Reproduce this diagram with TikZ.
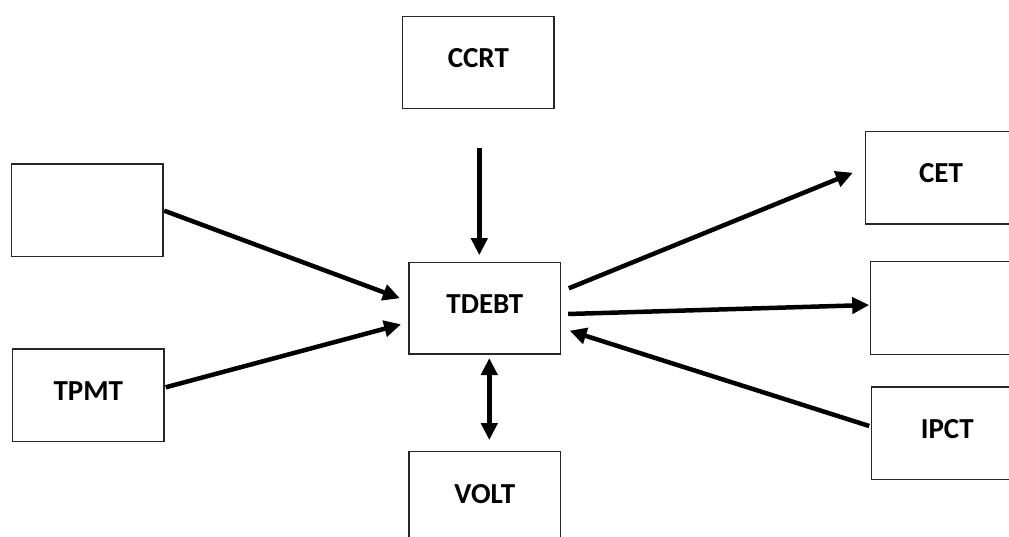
\documentclass[tikz,border=0pt]{standalone}
\usepackage{fontspec}
\setmainfont{Carlito}
\usetikzlibrary{arrows.meta,calc}
\tikzset{
  box/.style={draw=black!85, line width=1.3pt, rectangle, minimum width=151.5pt, minimum height=92.5pt, inner sep=0pt,
    font=\fontsize{29}{33}\selectfont\bfseries, text height=18.3pt, text depth=8pt},
  conn/.style={line width=4.5pt, -{Triangle[length=17pt,width=16pt]}},
  conn2/.style={line width=4.5pt, {Triangle[length=17pt,width=16pt]}-{Triangle[length=17pt,width=16pt]}}
}
\begin{document}
\begin{tikzpicture}[x=1pt,y=-1pt]
\useasboundingbox (0,0) rectangle (1009,536);
\clip (0,0) rectangle (1009,536);
\node[box] (ccrt) at (478.3,62.5) {CCRT};
\node[box] (left) at (87.3,210.3) {};
\node[box] (tpmt) at (88.3,395.3) {TPMT};
\node[box, minimum height=91.5pt] (tdebt) at (484.8,308.3) {TDEBT};
\node[box] (volt) at (484.8,498) {VOLT};
\node[box] (cet) at (941,177.7) {CET};
\node[box] (right) at (946.3,308) {};
\node[box] (ipct) at (947.3,433.3) {IPCT};

\draw[conn] ($(ccrt.south)+(1,38.3)$) -- ($(tdebt.north)+(-5.5,-6.7)$);
\draw[conn] ($(left.east)+(0.5,0.4)$) -- ($(tdebt.west)+(-8.5,-10)$);
\draw[conn] ($(tpmt.east)+(1,-8)$) -- ($(tdebt.west)+(-7.3,16)$);
\draw[conn] ($(tdebt.east)+(7.6,-20)$) -- ($(cet.west)+(-11.7,-5)$);
\draw[conn] ($(tdebt.east)+(7,5.7)$) -- ($(right.west)+(-0.7,-3)$);
\draw[conn] ($(ipct.west)+(-1.7,-7.3)$) -- ($(tdebt.east)+(8.3,22.4)$);
\draw[conn2] ($(tdebt.south)+(4.5,3.3)$) -- ($(volt.north)+(4.5,-11)$);
\end{tikzpicture}
\end{document}
